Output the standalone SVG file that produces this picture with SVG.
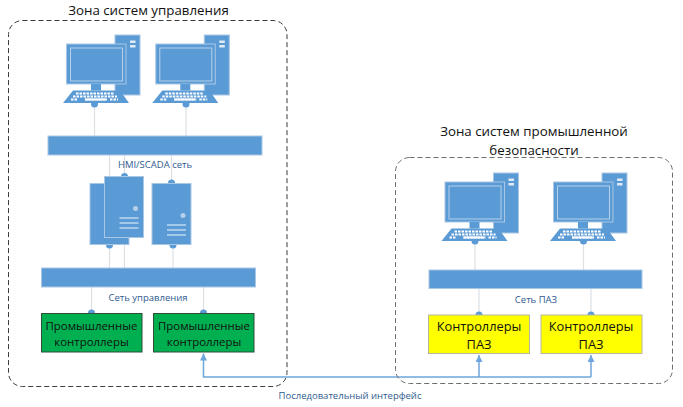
<svg xmlns="http://www.w3.org/2000/svg" width="683" height="407" viewBox="0 0 683 407">
<style>
text{font-family:"Open Sans","Noto Sans",sans-serif}
.zone{fill:none;stroke:#3c3c3c;stroke-width:1;stroke-dasharray:5 3}
.zone2{stroke:#6e6e6e}
.t{font-size:13.300px;fill:#111;text-anchor:middle}
.p{font-size:12.800px;fill:#111;text-anchor:middle}
.n{font-size:9.500px;fill:#2f5b8f;text-anchor:middle}
.c{font-size:11.400px;fill:#111;text-anchor:middle}
.b{fill:#5b9bd5}
.bs{fill:#5b9bd5;stroke:#a9c6e4;stroke-width:1}
.l{stroke:#dde1e6;stroke-width:1.200;fill:none}
.w{stroke:#fff;stroke-width:1.200;opacity:.9}
.ser{stroke:#6ea6dc;stroke-width:1.500;fill:none}
.g{fill:#00b050;stroke:#2f4f3a;stroke-width:1}
.y{fill:#ffff00;stroke:#b5b5a5;stroke-width:1}
</style>
<defs>
<marker id="arr" markerWidth="7" markerHeight="7" refX="7" refY="3.500" orient="auto" markerUnits="userSpaceOnUse" viewBox="0 0 7 7"><path d="M0 0 7 3.500 0 7Z" fill="#6ea6dc"/></marker>
<g id="pc">
<rect class="bs" x="115" y="35" width="25" height="60"/>
<rect x="130" y="40.500" width="5.500" height="2.500" fill="#dfeaf6"/>
<rect x="130" y="45" width="5.500" height="2.500" fill="#dfeaf6"/>
<rect class="bs" x="66.500" y="44" width="59.500" height="40"/>
<rect x="70.500" y="48" width="52" height="33" fill="none" stroke="#b5d0ea" stroke-width="1"/>
<rect class="b" x="91" y="84" width="10" height="6.500"/>
<path class="b" d="M73 90.500H120L129 103H63Z"/>
<path d="M76 93.500H114M73 96.500H117M71 99.500H77M85 99.500H107M110 99.500H118" stroke="#fff" stroke-width="1.800" stroke-dasharray="2.500 1" fill="none"/>
<rect x="85" y="98.500" width="21" height="2" fill="#fff"/>
</g>
<g id="srv">
<rect class="bs" x="0" y="0" width="39" height="61"/>
<circle cx="31" cy="32" r="2.500" fill="#b5d0ea"/>
<path class="w" d="M15 41.500H34M15 46.500H34M15 51.500H34"/>
</g>
</defs>

<g id="connectors">
<path class="l" d="M94.500 104V136M186 104V136M109.500 155V183M124.500 155V176M171.500 155V183M109.500 245V268M124.500 238V268M173 245V268M91.500 287V313M203.500 287V313M475 241V270M583.500 241V270M479 288V315M591 288V315"/>
<g class="b">
<circle cx="94.500" cy="104" r="3.500"/><circle cx="186" cy="104" r="3.500"/>
<circle cx="124.500" cy="176.500" r="3.500"/><circle cx="171.500" cy="183" r="3.500"/>
<circle cx="109.500" cy="245" r="3.500"/><circle cx="173" cy="245" r="3.500"/>
<path d="M88 313a3.500 3.500 0 0 1 7 0ZM200 313a3.500 3.500 0 0 1 7 0ZM475.500 315a3.500 3.500 0 0 1 7 0ZM587.500 315a3.500 3.500 0 0 1 7 0Z"/>
<circle cx="475" cy="241" r="3.500"/><circle cx="583.500" cy="241" r="3.500"/>
</g>
<path class="ser" d="M591 377H203.500V353.500" marker-end="url(#arr)"/>
<path class="ser" d="M479 377V355" marker-end="url(#arr)"/>
<path class="ser" d="M591 377V355" marker-end="url(#arr)"/>
</g>

<g id="zone-control"><rect class="zone" x="8.500" y="20.500" width="278.500" height="366" rx="14"/>
<text class="t" x="148.500" y="15">Зона систем управления</text></g>
<g id="zone-safety"><rect class="zone zone2" x="395.500" y="157.500" width="277" height="226" rx="14"/>
<text class="t" x="534" y="136">Зона систем промышленной</text>
<text class="t" x="534" y="155">безопасности</text></g>

<g id="pc1"><use href="#pc"/></g>
<g id="pc2"><use href="#pc" x="89.300"/></g>
<g id="pc3"><use href="#pc" x="378.500" y="138"/></g>
<g id="pc4"><use href="#pc" x="487" y="138"/></g>

<g id="bus-hmi"><rect class="bs" x="48" y="136" width="214" height="19"/><text class="n" x="155" y="168">HMI/SCADA сеть</text></g>
<g id="srv1"><use href="#srv" x="90" y="183.500"/></g>
<g id="srv2"><use href="#srv" x="104.500" y="176.500"/></g>
<g id="srv3"><use href="#srv" x="152" y="183.500"/></g>
<g id="bus-control"><rect class="bs" x="41.500" y="268" width="214" height="19"/><text class="n" x="148" y="301">Сеть управления</text></g>
<g id="bus-paz"><rect class="bs" x="429" y="270" width="213" height="18.500"/><text class="n" x="536" y="303">Сеть ПАЗ</text></g>

<g id="ctrl1"><rect class="g" x="41.500" y="313.500" width="100.500" height="38.500"/><text class="c" x="91.500" y="330">Промышленные</text><text class="c" x="91.500" y="346">контроллеры</text></g>
<g id="ctrl2"><rect class="g" x="153.500" y="313.500" width="100.500" height="38.500"/><text class="c" x="204" y="330">Промышленные</text><text class="c" x="204" y="346">контроллеры</text></g>
<g id="paz1"><rect class="y" x="428.500" y="315" width="101" height="38.500"/><text class="p" x="479" y="331">Контроллеры</text><text class="p" x="479" y="348.500">ПАЗ</text></g>
<g id="paz2"><rect class="y" x="541" y="315" width="101" height="38.500"/><text class="p" x="591" y="331">Контроллеры</text><text class="p" x="591" y="348.500">ПАЗ</text></g>
<text id="serial-label" class="n" x="350" y="399">Последовательный интерфейс</text>
</svg>
